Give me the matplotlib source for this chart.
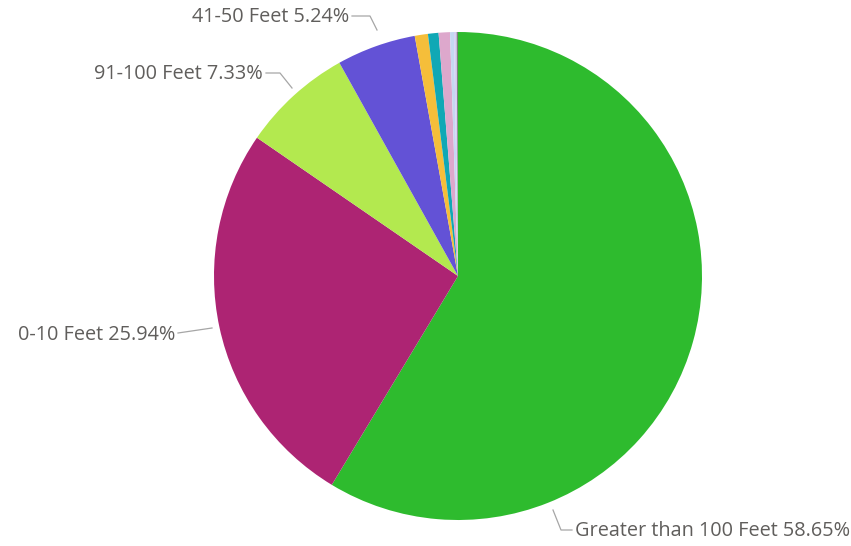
import matplotlib.pyplot as plt

categories = ["Greater than 100 Feet", "0-10 Feet", "91-100 Feet", "41-50 Feet",
              "cat5", "cat6", "cat7", "cat8", "cat9", "cat10"]
values = [58.65, 25.94, 7.33, 5.24, 0.87, 0.70, 0.75, 0.26, 0.17, 0.09]
colors = ["#2EBB2E", "#AD2473", "#B3E94F", "#6352D6", "#F5BE3A", "#10A8B5",
          "#DDA8CC", "#C5D8F2", "#D6D0F5", "#7F7F7F"]
label_texts = ["Greater than 100 Feet 58.65%", "0-10 Feet 25.94%",
               "91-100 Feet 7.33%", "41-50 Feet 5.24%"]

W, H = 851, 546
fig = plt.figure(figsize=(W / 100, H / 100), dpi=100)
ax = fig.add_axes([0, 0, 1, 1])

cx, cy, r = 458, H - 276, 244
ax.pie(values, colors=colors, startangle=90, counterclock=False,
       center=(cx, cy), radius=r, frame=True,
       wedgeprops=dict(linewidth=0))
ax.set_xlim(0, W)
ax.set_ylim(0, H)
ax.set_aspect("equal")
ax.axis("off")

font = dict(family=["Open Sans", "DejaVu Sans"], size=14.3, color="#605E5C")
lc = "#A6A6A6"

def Y(y):
    return H - y

# Greater than 100
ax.plot([553, 561, 572], [Y(510), Y(530), Y(530)], color=lc, lw=0.9)
ax.text(575, Y(531), label_texts[0], ha="left", va="center", **font)
# 0-10
ax.plot([212, 178], [Y(328), Y(333)], color=lc, lw=0.9)
ax.text(175, Y(335), label_texts[1], ha="right", va="center", **font)
# 91-100
ax.plot([292, 280, 266], [Y(88), Y(73), Y(73)], color=lc, lw=0.9)
ax.text(263, Y(74), label_texts[2], ha="right", va="center", **font)
# 41-50
ax.plot([377, 370, 352], [Y(30), Y(16), Y(16)], color=lc, lw=0.9)
ax.text(349, Y(17), label_texts[3], ha="right", va="center", **font)

fig.savefig("out.png", dpi=100)
